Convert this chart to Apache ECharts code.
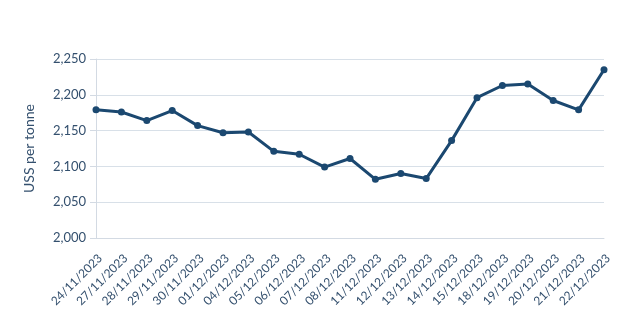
<!DOCTYPE html>
<html>
<head>
<meta charset="utf-8">
<script src="https://cdn.jsdelivr.net/npm/echarts@6/dist/echarts.min.js"></script>
<style>html,body{margin:0;padding:0;background:#fff}#c{width:632px;height:320px}</style>
</head>
<body>
<div id="c"></div>
<script>
const categories = ["24/11/2023","27/11/2023","28/11/2023","29/11/2023","30/11/2023","01/12/2023","04/12/2023","05/12/2023","06/12/2023","07/12/2023","08/12/2023","11/12/2023","12/12/2023","13/12/2023","14/12/2023","15/12/2023","18/12/2023","19/12/2023","20/12/2023","21/12/2023","22/12/2023"];
const prices = [2179,2176,2164,2178,2157,2147,2148,2121,2117,2099,2111,2082,2090,2083,2136,2196,2213,2215,2192,2179,2235];
const yAxisName = "USS per tonne";

const chart = echarts.init(document.getElementById('c'), null, {renderer:'canvas'});
const txt = '#34506e';
chart.setOption({
  animation:false,
  backgroundColor:'#fff',
  grid:{left:96,right:28,top:59,bottom:82,containLabel:false},
  xAxis:{
    type:'category', data:categories, boundaryGap:false,
    axisLine:{show:true,lineStyle:{color:'#d3dae3',width:1}},
    axisTick:{show:false},
    axisLabel:{rotate:45,interval:0,color:txt,fontFamily:'Lato',fontSize:12,margin:14,verticalAlign:'top'},
    splitLine:{show:false}
  },
  yAxis:{
    type:'value', min:2000, max:2250, interval:50,
    name:yAxisName, nameLocation:'middle', nameGap:60, nameRotate:90,
    nameTextStyle:{color:txt,fontFamily:'Lato',fontSize:14},
    axisLine:{show:true,lineStyle:{color:'#d3dae3'}},
    axisTick:{show:true,length:6,lineStyle:{color:'#d3dae3'}},
    axisLabel:{color:txt,fontFamily:'Lato',fontSize:13,margin:10,
      formatter:v=>v.toLocaleString('en-US')},
    splitLine:{show:true,lineStyle:{color:'#d8e0e8',width:1}}
  },
  series:[{
    type:'line', data:prices,
    symbol:'circle', symbolSize:7,
    lineStyle:{color:'#1b4870',width:3},
    itemStyle:{color:'#1b4870'}
  }]
});
</script>
</body>
</html>
